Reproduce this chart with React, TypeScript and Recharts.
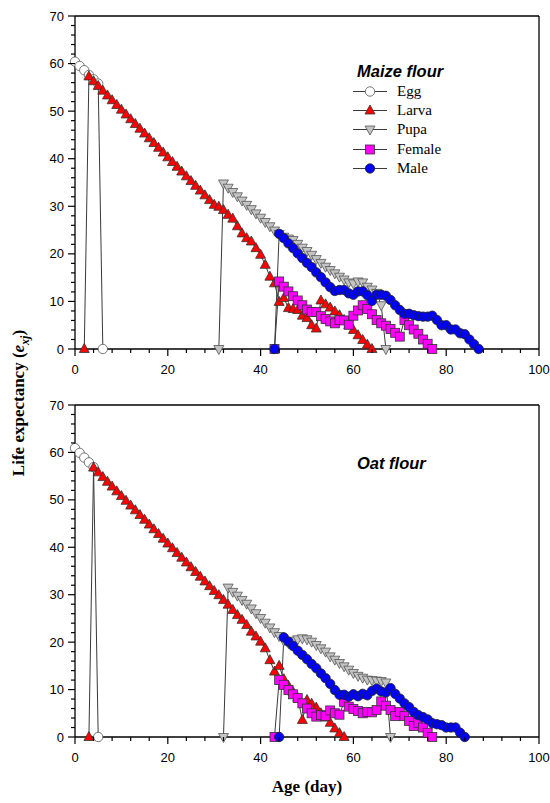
import React from "react";
import { LineChart, Line, XAxis, YAxis, ReferenceLine } from "recharts";

// life expectancy e_xj by age (day); each series starts at the given day
const maizeEggStart = 0;
const maizeEgg = [60.4, 59.5, 58.6, 57.6, 56.7, 55.8, 0];
const maizeLarvaStart = 2;
const maizeLarva = [
  0, 57.3, 56.3, 55.3, 54.3, 53.3, 52.3, 51.3, 50.3, 49.3, 48.3, 47.3, 46.3, 45.3, 44.3, 43.3,
  42.3, 41.3, 40.3, 39.3, 38.3, 37.3, 36.3, 35.3, 34.3, 33.3, 32.3, 31.3, 30.3, 29.9, 29.2, 28.2,
  27.4, 25.8, 24.3, 23.3, 22.6, 21.2, 19.8, 17.7, 15.2, 13.8, 9.9, 10.7, 8.6, 8.4, 8.2, 7.0, 6.5,
  5.0, 4.3, 10.2, 9.4, 8.7, 7.9, 7.1, 6.1, 5.0, 4.0, 2.9, 1.9, 0.9, 0,
];
const maizePupaStart = 31;
const maizePupa = [
  0, 34.8, 33.9, 33.0, 32.1, 31.2, 30.3, 29.4, 28.5, 27.6, 26.7, 25.8, 24.9, 24.2, 23.6, 23.2,
  22.9, 22.1, 21.3, 20.6, 19.8, 18.9, 18.1, 17.3, 16.6, 15.9, 15.2, 14.6, 14.0, 13.8, 14.2, 14.0,
  13.1, 12.5, 11.8, 9.2, 0,
];
const maizeFemaleStart = 43;
const maizeFemale = [
  0, 14.2, 13.1, 12.1, 11.1, 10.2, 9.2, 8.3, 7.8, 7.8, 6.9, 6.3, 5.8, 5.4, 6.1, 6.0, 5.1, 7.0, 8.1,
  9.2, 8.4, 7.3, 6.1, 5.4, 4.9, 4.2, 3.4, 2.6, 6.1, 5.0, 4.1, 3.2, 2.0, 1.1, 0,
];
const maizeMaleStart = 43;
const maizeMale = [
  0, 24.2, 23.3, 22.2, 21.2, 20.1, 19.1, 18.1, 17.2, 16.1, 15.1, 14.0, 13.0, 12.2, 12.4, 12.4,
  11.7, 11.4, 12.1, 12.1, 11.3, 10.1, 11.4, 11.4, 11.2, 10.3, 9.2, 8.2, 7.4, 7.4, 7.1, 6.9, 6.8,
  6.8, 7.0, 6.1, 5.0, 5.0, 4.1, 4.1, 3.3, 3.1, 2.0, 1.0, 0,
];

const oatEggStart = 0;
const oatEgg = [60.9, 59.9, 58.9, 57.9, 56.9, 0];
const oatLarvaStart = 3;
const oatLarva = [
  0, 56.8, 55.8, 54.8, 53.8, 52.8, 51.8, 50.8, 49.8, 48.8, 47.8, 46.8, 45.8, 44.8, 43.8, 42.8,
  41.8, 40.8, 39.8, 38.8, 37.8, 36.8, 35.8, 34.8, 33.8, 32.8, 31.8, 30.8, 29.9, 28.9, 27.9, 26.8,
  25.7, 24.7, 23.6, 22.2, 21.2, 20.1, 18.7, 16.2, 13.8, 15.0, 12.2, 10.8, 9.5, 8.3, 3.6, 7.8, 7.0,
  6.2, 5.0, 4.1, 3.0, 1.8, 0.8, 0,
];
const oatPupaStart = 32;
const oatPupa = [
  0, 31.5, 30.6, 29.8, 28.9, 28.1, 27.1, 26.1, 25.1, 24.1, 23.1, 22.1, 21.3, 20.3, 19.8, 20.3,
  20.6, 20.8, 20.6, 20.1, 19.4, 18.7, 18.0, 17.0, 16.3, 15.6, 14.9, 14.2, 13.5, 12.9, 12.5, 12.1,
  12.0, 11.9, 11.8, 11.5, 0,
];
const oatFemaleStart = 43;
const oatFemale = [
  0, 12.0, 11.0, 9.9, 9.0, 8.2, 7.1, 6.0, 5.0, 4.3, 4.6, 4.4, 5.6, 5.0, 4.7, 7.4, 6.4, 5.9, 5.5,
  5.0, 5.3, 5.2, 5.7, 7.5, 6.6, 5.7, 4.4, 5.3, 4.4, 3.4, 2.3, 3.0, 2.0, 0.9, 0,
];
const oatMaleStart = 44;
const oatMale = [
  0, 21.0, 20.1, 19.2, 18.2, 17.3, 16.4, 15.4, 14.5, 13.4, 12.4, 11.2, 9.9, 8.9, 8.9, 8.5, 9.0,
  8.6, 9.1, 8.8, 9.7, 10.2, 9.6, 9.4, 10.3, 9.1, 8.1, 7.1, 6.3, 5.3, 4.6, 4.2, 3.7, 2.9, 2.7, 2.5,
  2.0, 2.0, 2.0, 0.9, 0,
];

const xTicks = [0, 4, 8, 12, 16, 20, 24, 28, 32, 36, 40, 44, 48, 52, 56, 60, 64, 68, 72, 76, 80, 84, 88, 92, 96, 100];
const yTicks = [0, 2, 4, 6, 8, 10, 12, 14, 16, 18, 20, 22, 24, 26, 28, 30, 32, 34, 36, 38, 40, 42, 44, 46, 48, 50, 52, 54, 56, 58, 60, 62, 64, 66, 68, 70];

const SANS = "'Liberation Sans', Arial, sans-serif";
const SERIF = "'Liberation Serif', 'Times New Roman', serif";
const LINE = "#3a3a3a";

type Shape = "circle" | "up" | "down" | "square";
type Stage = { name: string; shape: Shape; fill: string; stroke: string };

const stages: Stage[] = [
  { name: "Egg", shape: "circle", fill: "#ffffff", stroke: "#555" },
  { name: "Larva", shape: "up", fill: "#ff0000", stroke: "#333" },
  { name: "Pupa", shape: "down", fill: "#c4c4c4", stroke: "#555" },
  { name: "Female", shape: "square", fill: "#ff00ff", stroke: "#333" },
  { name: "Male", shape: "circle", fill: "#0000ff", stroke: "#222" },
];

function toPoints(start: number, values: number[]) {
  return values.map((e, i) => ({ age: start + i, e }));
}

const maizeSeries = [
  toPoints(maizeEggStart, maizeEgg),
  toPoints(maizeLarvaStart, maizeLarva),
  toPoints(maizePupaStart, maizePupa),
  toPoints(maizeFemaleStart, maizeFemale),
  toPoints(maizeMaleStart, maizeMale),
];
const oatSeries = [
  toPoints(oatEggStart, oatEgg),
  toPoints(oatLarvaStart, oatLarva),
  toPoints(oatPupaStart, oatPupa),
  toPoints(oatFemaleStart, oatFemale),
  toPoints(oatMaleStart, oatMale),
];

function Marker({ shape, cx, cy, fill, stroke }: { shape: Shape; cx: number; cy: number; fill: string; stroke: string }) {
  const sw = 0.8;
  if (shape === "circle") return <circle cx={cx} cy={cy} r={4.7} fill={fill} stroke={stroke} strokeWidth={sw} />;
  if (shape === "square")
    return <rect x={cx - 4.5} y={cy - 4.5} width={9} height={9} fill={fill} stroke={stroke} strokeWidth={sw} />;
  if (shape === "up")
    return (
      <polygon
        points={`${cx},${cy - 5.5} ${cx - 5},${cy + 3.5} ${cx + 5},${cy + 3.5}`}
        fill={fill}
        stroke={stroke}
        strokeWidth={sw}
      />
    );
  return (
    <polygon
      points={`${cx - 5},${cy - 3.5} ${cx + 5},${cy - 3.5} ${cx},${cy + 5.5}`}
      fill={fill}
      stroke={stroke}
      strokeWidth={sw}
    />
  );
}

function XTick(props: any) {
  const { x, y, payload } = props;
  const major = payload.value % 20 === 0;
  return (
    <g>
      <line x1={x} y1={y} x2={x} y2={y + (major ? 7 : 4)} stroke="#000" strokeWidth={1.2} />
      {major && (
        <text x={x} y={y + 25} textAnchor="middle" fontSize={13} fontFamily={SANS} fill="#000">
          {payload.value}
        </text>
      )}
    </g>
  );
}

function YTick(props: any) {
  const { x, y, payload } = props;
  const major = payload.value % 10 === 0;
  return (
    <g>
      <line x1={x} y1={y} x2={x - (major ? 7 : 4)} y2={y} stroke="#000" strokeWidth={1.2} />
      {major && (
        <text x={x - 11} y={y + 4.5} textAnchor="end" fontSize={13} fontFamily={SANS} fill="#000">
          {payload.value}
        </text>
      )}
    </g>
  );
}

function Panel({ series, height, marginTop, axisHeight }: { series: { age: number; e: number }[][]; height: number; marginTop: number; axisHeight: number }) {
  return (
    <LineChart width={550} height={height} margin={{ top: marginTop, right: 11, bottom: 0, left: 0 }}>
      <XAxis
        type="number"
        dataKey="age"
        domain={[0, 100]}
        ticks={xTicks}
        interval={0}
        height={axisHeight}
        tickSize={0}
        tickMargin={0}
        tick={<XTick />}
        tickLine={false}
        axisLine={{ stroke: "#000", strokeWidth: 1.3 }}
      />
      <YAxis
        type="number"
        domain={[0, 70]}
        ticks={yTicks}
        interval={0}
        width={75}
        tickSize={0}
        tickMargin={0}
        tick={<YTick />}
        tickLine={false}
        axisLine={{ stroke: "#000", strokeWidth: 1.3 }}
      />
      <ReferenceLine y={70} stroke="#000" strokeWidth={1.3} />
      <ReferenceLine x={100} stroke="#000" strokeWidth={1.3} />
      {stages.map((s, si) => (
        <Line
          key={s.name}
          data={series[si]}
          dataKey="e"
          name={s.name}
          type="linear"
          stroke={LINE}
          strokeWidth={1}
          isAnimationActive={false}
          activeDot={false}
          dot={(p: any) => (
            <Marker key={`${s.name}-${p.index}`} shape={s.shape} cx={p.cx} cy={p.cy} fill={s.fill} stroke={s.stroke} />
          )}
        />
      ))}
    </LineChart>
  );
}

function LegendBox({ left, top }: { left: number; top: number }) {
  return (
    <div style={{ position: "absolute", left, top }}>
      {stages.map((s, i) => (
        <div key={s.name} style={{ position: "absolute", left: 0, top: i * 19.2, height: 19, whiteSpace: "nowrap" }}>
          <svg width={40} height={19} style={{ position: "absolute", left: 0, top: 0 }}>
            <line x1={1} y1={9.5} x2={35} y2={9.5} stroke={LINE} strokeWidth={1} />
            <Marker shape={s.shape} cx={18} cy={9.5} fill={s.fill} stroke={s.stroke} />
          </svg>
          <span
            style={{ position: "absolute", left: 45, top: 0, lineHeight: "19px", fontFamily: SERIF, fontSize: 15, color: "#000" }}
          >
            {s.name}
          </span>
        </div>
      ))}
    </div>
  );
}

const titleStyle: React.CSSProperties = {
  position: "absolute",
  fontFamily: SANS,
  fontWeight: "bold",
  fontStyle: "italic",
  fontSize: 16.5,
  lineHeight: "20px",
  color: "#000",
  whiteSpace: "nowrap",
};

export default function App() {
  return (
    <div style={{ position: "absolute", left: 0, top: 0, width: 550, height: 803, background: "#fff", overflow: "hidden" }}>
      <div style={{ position: "absolute", left: 0, top: 0 }}>
        <Panel series={maizeSeries} height={380} marginTop={16} axisHeight={31} />
      </div>
      <div style={{ position: "absolute", left: 0, top: 390 }}>
        <Panel series={oatSeries} height={380} marginTop={15} axisHeight={33} />
      </div>
      <div style={{ ...titleStyle, left: 357, top: 61 }}>Maize flour</div>
      <LegendBox left={352} top={82} />
      <div style={{ ...titleStyle, left: 357, top: 453 }}>Oat flour</div>
      <div
        style={{
          position: "absolute",
          left: 207,
          top: 777,
          width: 200,
          textAlign: "center",
          fontFamily: SERIF,
          fontWeight: "bold",
          fontSize: 17,
          lineHeight: "20px",
        }}
      >
        Age (day)
      </div>
      <div
        style={{
          position: "absolute",
          left: 22,
          top: 403,
          transform: "translate(-50%, -50%) rotate(-90deg)",
          whiteSpace: "nowrap",
          fontFamily: SERIF,
          fontWeight: "bold",
          fontSize: 17,
          lineHeight: "20px",
        }}
      >
        Life expectancy (<i>e</i>
        <sub style={{ fontSize: 12 }}>
          <i>xj</i>
        </sub>
        )
      </div>
    </div>
  );
}
